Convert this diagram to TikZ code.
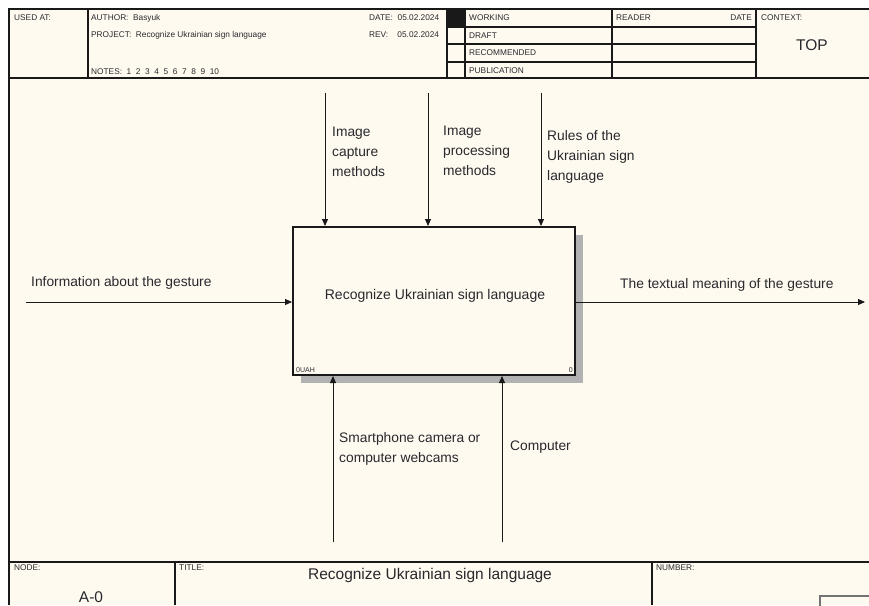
\documentclass[tikz,border=0pt]{standalone}
\usepackage{fontspec}
\setmainfont{Liberation Sans}
\usetikzlibrary{arrows.meta}
\definecolor{paper}{RGB}{255,250,240}
\definecolor{ink}{RGB}{25,25,25}
\definecolor{txt}{RGB}{40,40,45}
\tikzset{
  frame/.style={draw=ink, line width=1.3pt},
  arr/.style={draw=ink, line width=0.9pt, -{Triangle[length=7pt,width=6pt]}},
  small/.style={inner sep=0pt, anchor=west, text=txt, font=\fontsize{8.3}{10}\selectfont},
  lbl/.style={inner sep=0pt, anchor=north west, align=left, text=txt, font=\fontsize{13.8}{20}\selectfont},
  big/.style={inner sep=0pt, text=txt, font=\fontsize{15.5}{18}\selectfont},
  actbox/.style={draw=ink, line width=2pt, fill=paper, minimum width=282pt, minimum height=148pt, inner sep=0pt},
  shade/.style={fill=black!30}
}
\begin{document}
\begin{tikzpicture}[x=1pt,y=-1pt]
\useasboundingbox (0,0) rectangle (869,605);
\fill[white] (0,0) rectangle (869,605);
\fill[paper] (9,9) rectangle (869,605);
% frame and header
\draw[frame] (869,9) -- (9,9) -- (9,605);
\draw[frame] (9,78) -- (869,78);
\draw[frame] (9,562) -- (869,562);
\draw[frame] (88,9) -- (88,78);
\draw[frame] (447,9) -- (447,78);
\draw[frame] (465,9) -- (465,78);
\draw[frame] (612,9) -- (612,78);
\draw[frame] (756,9) -- (756,78);
\draw[frame] (447,27) -- (756,27);
\draw[frame] (447,44) -- (756,44);
\draw[frame] (447,62) -- (756,62);
\fill[ink] (447,9) rectangle (465,27);
\draw[frame] (175,562) -- (175,605);
\draw[frame] (652,562) -- (652,605);
\draw[draw=black!55, line width=1.2pt] (875,596) -- (820,596) -- (820,610);
% header texts
\node[small] (usedat) at (14,18) {USED AT:};
\node[small] (author) at (91,18) {AUTHOR:\ \ Basyuk};
\node[small] (project) at (91,35) {PROJECT:\ \ Recognize Ukrainian sign language};
\node[small] (notes) at (91,72) {NOTES:\ \ 1\ \ 2\ \ 3\ \ 4\ \ 5\ \ 6\ \ 7\ \ 8\ \ 9\ \ 10};
\node[small, anchor=west] (date) at (369,18) {DATE:\ \ 05.02.2024};
\node[small, anchor=west] (rev) at (369,35) {REV:\ \ \ \ 05.02.2024};
\node[small] (working) at (469,18) {WORKING};
\node[small] (draft) at (469,36) {DRAFT};
\node[small] (recommended) at (469,53) {RECOMMENDED};
\node[small] (publication) at (469,71) {PUBLICATION};
\node[small] (reader) at (616,18) {READER};
\node[small, anchor=east] (rdate) at (752,18) {DATE};
\node[small] (context) at (761,18) {CONTEXT:};
\node[big] (top) at (812,45) {TOP};
% footer texts
\node[small] (nodel) at (14,568) {NODE:};
\node[big] (nodeid) at (91,597) {A-0};
\node[small] (titlel) at (179,568) {TITLE:};
\node[big] (title) at (430,575) {Recognize Ukrainian sign language};
\node[small] (numberl) at (656,568) {NUMBER:};
% activity box
\fill[shade] (575,235) rectangle (583,383);
\fill[shade] (301,375) rectangle (583,383);
\node[actbox] (box) at (434,301) {};
\node[inner sep=0pt, text=txt, font=\fontsize{14}{16}\selectfont] (boxtext) at (435,296) {Recognize Ukrainian sign language};
\node[inner sep=0pt, anchor=south west, text=txt, font=\fontsize{7}{8}\selectfont] (boxid) at (296,373) {0UAH};
\node[inner sep=0pt, anchor=south east, text=txt, font=\fontsize{7}{8}\selectfont] (boxnum) at (573,373) {0};
% controls
\coordinate (c1) at (325,93);
\coordinate (c2) at (428,93);
\coordinate (c3) at (541,93);
\draw[arr] (c1) -- (c1 |- box.north);
\draw[arr] (c2) -- (c2 |- box.north);
\draw[arr] (c3) -- (c3 |- box.north);
\node[lbl] (lc1) at (332,127) {Image\\capture\\methods};
\node[lbl] (lc2) at (443,126) {Image\\processing\\methods};
\node[lbl] (lc3) at (547,130) {Rules of the\\Ukrainian sign\\language};
% input / output
\coordinate (in) at (26,302);
\coordinate (out) at (865,302);
\draw[arr] (in) -- (in -| box.west);
\draw[arr] (box.east |- out) -- (out);
\node[lbl] (lin) at (31,276) {Information about the gesture};
\node[lbl] (lout) at (620,278) {The textual meaning of the gesture};
% mechanisms
\coordinate (m1) at (333,542);
\coordinate (m2) at (502,542);
\draw[arr] (m1) -- (m1 |- box.south);
\draw[arr] (m2) -- (m2 |- box.south);
\node[lbl] (lm1) at (339,432) {Smartphone camera or\\computer webcams};
\node[lbl] (lm2) at (510,441) {Computer};
\end{tikzpicture}
\end{document}
